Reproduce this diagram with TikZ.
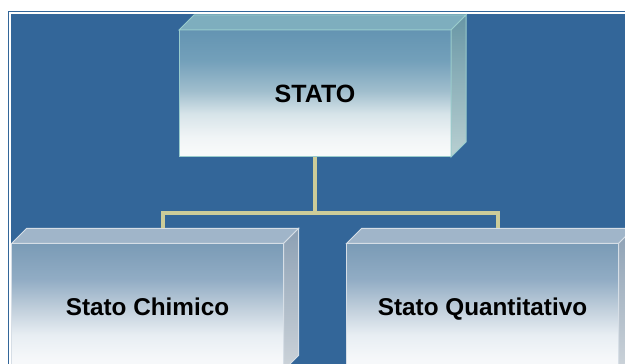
\documentclass[tikz,border=0pt]{standalone}
\usepackage{fontspec}
\setmainfont{Liberation Sans}
\usetikzlibrary{calc}

\definecolor{bgblue}{HTML}{336699}
\definecolor{linkgold}{HTML}{CCCC99}
\definecolor{statoedge}{HTML}{99CCCC}
\definecolor{statotop}{HTML}{7EAEBE}
\definecolor{statosidea}{RGB}{104,150,165}
\definecolor{statosideb}{RGB}{185,208,210}
\definecolor{childedge}{HTML}{D6DEE6}
\definecolor{childtop}{HTML}{A0B5C9}
\definecolor{childsidea}{RGB}{140,160,180}
\definecolor{childsideb}{RGB}{205,212,218}
% gradient stops, bottom to top
\definecolor{sa}{RGB}{248,250,250}
\definecolor{sb}{RGB}{240,244,246}
\definecolor{sc}{RGB}{215,228,233}
\definecolor{sd}{RGB}{160,190,205}
\definecolor{se}{RGB}{115,160,186}
\definecolor{sf}{RGB}{100,148,178}
\definecolor{ca}{RGB}{246,248,250}
\definecolor{cb}{RGB}{232,238,243}
\definecolor{cc}{RGB}{190,205,218}
\definecolor{cd}{RGB}{145,172,196}
\definecolor{ce}{RGB}{122,155,182}

% front faces, light at the bottom
\pgfdeclareverticalshading{statoshade}{100bp}{color(0bp)=(sa); color(27bp)=(sa); color(33bp)=(sb); color(42bp)=(sc);
  color(51bp)=(sd); color(63bp)=(se); color(75bp)=(sf); color(100bp)=(sf)}
\pgfdeclareverticalshading{childshade}{100bp}{color(0bp)=(ca); color(29bp)=(ca); color(39bp)=(cb); color(50bp)=(cc);
  color(61bp)=(cd); color(75bp)=(ce); color(100bp)=(ce)}

\tikzset{
  facebox/.style={rectangle, minimum width=272pt, minimum height=127pt, inner sep=0pt, outer sep=0pt, line width=1pt,
    text height=17.5pt, text depth=0pt},
  statobox/.style={facebox, draw=statoedge, shading=statoshade, font=\bfseries\fontsize{25}{30}\selectfont},
  childbox/.style={facebox, draw=childedge, shading=childshade, font=\bfseries\fontsize{24.3}{29}\selectfont},
  link/.style={draw=linkgold, line width=4pt}
}

% top and side of a box: node, edge, top fill, side top, side bottom
\newcommand{\depthfaces}[5]{%
  \filldraw[draw=#2, fill=#3, line width=1pt] (#1.north west) -- ++(15,15) -- ($(#1.north east)+(15,15)$) -- (#1.north east) -- cycle;
  \shadedraw[draw=#2, top color=#4, bottom color=#5, line width=1pt] (#1.north east) -- ++(15,15) -- ($(#1.south east)+(15,15)$) -- (#1.south east) -- cycle;}

\begin{document}
\begin{tikzpicture}[x=1pt,y=1pt]
  \useasboundingbox (0,0) rectangle (625,364);
  \clip (0,0) rectangle (625,364);
  \fill[white] (0,0) rectangle (625,364);
  \fill[bgblue] (11,0) rectangle (625,350);
  \draw[bgblue, line width=1pt] (8.5,0) -- (8.5,352.5) -- (625,352.5);

  \node[statobox] (stato) at (315,270.5) {STATO};
  \node[childbox] (chimico) at (147.5,57) {Stato Chimico};
  \node[childbox] (quant) at (482.5,57) {Stato Quantitativo};

  \depthfaces{stato}{statoedge}{statotop}{statosidea}{statosideb}
  \depthfaces{chimico}{childedge}{childtop}{childsidea}{childsideb}
  \depthfaces{quant}{childedge}{childtop}{childsidea}{childsideb}

  \coordinate (fork) at (315,151);
  \coordinate (lend) at ($(chimico.north)+(15,15)$);
  \coordinate (rend) at ($(quant.north)+(15,15)$);
  \draw[link] (stato.south) -- (fork);
  \draw[link] (lend) |- (fork) -| (rend);
\end{tikzpicture}
\end{document}
